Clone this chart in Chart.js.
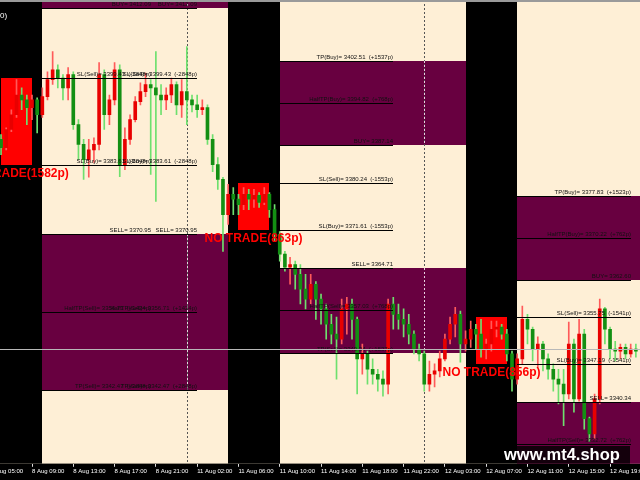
<!DOCTYPE html>
<html>
<head>
<meta charset="utf-8">
<title>XAUUSD M15 - Daily Range</title>
<script src="https://cdn.jsdelivr.net/npm/chart.js@4.4.1/dist/chart.umd.min.js"></script>
<style>
  html, body { margin: 0; padding: 0; background: #000; }
  #wrap { width: 640px; height: 480px; position: relative; }
</style>
</head>
<body>
<div id="wrap"><canvas id="chart"></canvas></div>
<script>
// one candle per 30 min, index 0 = 8 Aug 06:00
const opens = [
  3388.2, 3386.7, 3390.0, 3392.7, 3396.3, 3395.4, 3394.0, 3395.4, 3392.7, 3396.0,
  3399.1, 3400.9, 3399.4, 3397.6, 3400.0, 3390.9, 3387.3, 3384.5, 3386.3, 3387.3,
  3400.0, 3392.7, 3395.4, 3400.9, 3383.6, 3388.2, 3391.8, 3395.1, 3396.9, 3398.2,
  3397.6, 3396.3, 3395.4, 3396.3, 3398.2, 3394.5, 3396.9, 3395.4, 3394.5, 3393.6,
  3394.0, 3388.2, 3383.6, 3380.9, 3374.5, 3378.2, 3377.3, 3376.3, 3378.2, 3377.3,
  3378.0, 3376.7, 3378.2, 3375.4, 3370.9, 3367.3, 3364.9, 3365.4, 3363.6, 3360.9,
  3359.1, 3361.8, 3359.1, 3357.3, 3354.5, 3352.7, 3351.8, 3357.3, 3358.2, 3355.4,
  3348.2, 3349.1, 3346.3, 3345.4, 3344.5, 3343.6, 3358.2, 3356.3, 3355.4, 3354.5,
  3352.7, 3350.0, 3349.1, 3343.6, 3345.4, 3346.0, 3348.2, 3351.8, 3354.5, 3356.3,
  3350.9, 3351.8, 3353.6, 3352.7, 3350.0, 3350.9, 3353.6, 3354.0, 3352.7, 3349.1,
  3344.5, 3348.2, 3355.4, 3353.6, 3350.0, 3350.9, 3348.2, 3346.3, 3344.5, 3343.6,
  3341.8, 3350.9, 3340.9, 3352.7, 3337.3, 3334.5, 3340.9, 3357.3, 3353.6, 3350.0,
  3349.6, 3350.3, 3349.1, 3350.0
];
const highs = [
  3389.1, 3390.3, 3393.6, 3399.1, 3397.6, 3396.3, 3396.3, 3395.8, 3397.6, 3400.5,
  3404.2, 3401.8, 3400.0, 3401.3, 3400.5, 3391.8, 3388.2, 3388.2, 3388.5, 3402.2,
  3400.9, 3396.3, 3402.2, 3401.8, 3390.3, 3392.7, 3396.0, 3398.5, 3400.3, 3399.1,
  3404.2, 3398.2, 3397.6, 3399.4, 3398.7, 3399.1, 3405.1, 3396.3, 3396.3, 3395.4,
  3394.5, 3389.1, 3384.9, 3381.3, 3380.0, 3379.4, 3378.2, 3379.4, 3379.1, 3379.1,
  3378.5, 3379.4, 3378.5, 3376.3, 3371.4, 3367.8, 3366.7, 3366.0, 3365.4, 3363.6,
  3363.6, 3362.3, 3360.0, 3358.2, 3356.3, 3355.8, 3359.1, 3359.4, 3359.1, 3355.8,
  3350.9, 3349.6, 3348.2, 3346.3, 3346.0, 3359.1, 3359.4, 3358.2, 3357.3, 3356.3,
  3353.3, 3350.9, 3349.6, 3347.8, 3347.3, 3349.6, 3352.7, 3355.8, 3357.6, 3356.9,
  3353.3, 3355.1, 3354.5, 3355.4, 3351.8, 3355.1, 3355.1, 3354.5, 3353.6, 3349.6,
  3349.1, 3357.8, 3356.3, 3354.0, 3352.2, 3351.4, 3349.1, 3347.3, 3346.3, 3346.3,
  3354.9, 3351.8, 3355.4, 3353.6, 3337.6, 3341.8, 3359.1, 3357.6, 3354.0, 3351.4,
  3350.9, 3350.9, 3350.9, 3350.9
];
const lows = [
  3385.4, 3386.3, 3389.6, 3392.2, 3393.6, 3390.9, 3391.8, 3389.4, 3392.2, 3395.4,
  3398.2, 3397.6, 3395.4, 3395.4, 3390.0, 3384.5, 3380.9, 3381.3, 3384.0, 3386.3,
  3390.0, 3390.9, 3394.5, 3381.4, 3382.7, 3387.3, 3391.4, 3394.5, 3396.0, 3381.8,
  3376.9, 3392.7, 3393.6, 3394.9, 3392.7, 3392.2, 3390.9, 3393.2, 3392.2, 3392.7,
  3387.3, 3382.3, 3379.1, 3367.8, 3372.7, 3374.5, 3374.5, 3375.4, 3375.4, 3375.8,
  3375.8, 3376.3, 3374.0, 3369.6, 3366.0, 3364.2, 3361.8, 3360.9, 3358.2, 3357.3,
  3358.2, 3355.4, 3354.5, 3351.8, 3350.9, 3344.5, 3350.9, 3352.7, 3351.8, 3341.8,
  3345.4, 3343.6, 3343.6, 3342.3, 3341.4, 3341.8, 3353.6, 3353.6, 3352.2, 3350.9,
  3349.1, 3347.8, 3342.3, 3342.3, 3343.1, 3344.9, 3347.8, 3350.9, 3352.2, 3347.6,
  3349.6, 3350.3, 3350.0, 3348.5, 3348.2, 3349.6, 3352.2, 3351.8, 3347.8, 3342.3,
  3343.6, 3347.3, 3350.9, 3347.8, 3346.7, 3346.0, 3344.5, 3342.3, 3340.0, 3336.0,
  3340.9, 3338.5, 3340.5, 3335.4, 3333.1, 3333.6, 3340.0, 3350.9, 3348.2, 3347.8,
  3348.2, 3348.2, 3348.5, 3348.5
];
const closes = [
  3386.7, 3390.0, 3392.7, 3396.3, 3395.4, 3394.0, 3395.4, 3392.7, 3396.0, 3399.1,
  3400.9, 3399.4, 3397.6, 3400.0, 3390.9, 3387.3, 3384.5, 3386.3, 3387.3, 3400.0,
  3392.7, 3395.4, 3400.9, 3383.6, 3388.2, 3391.8, 3395.1, 3396.9, 3398.2, 3397.6,
  3396.3, 3395.4, 3396.3, 3398.2, 3394.5, 3396.9, 3395.4, 3394.5, 3393.6, 3394.0,
  3388.2, 3383.6, 3380.9, 3374.5, 3378.2, 3377.3, 3376.3, 3378.2, 3377.3, 3378.0,
  3376.7, 3378.2, 3375.4, 3370.9, 3367.3, 3364.9, 3365.4, 3363.6, 3360.9, 3359.1,
  3361.8, 3359.1, 3357.3, 3354.5, 3352.7, 3351.8, 3357.3, 3358.2, 3355.4, 3348.2,
  3349.1, 3346.3, 3345.4, 3344.5, 3343.6, 3358.2, 3356.3, 3355.4, 3354.5, 3352.7,
  3350.0, 3349.1, 3343.6, 3345.4, 3346.0, 3348.2, 3351.8, 3354.5, 3356.3, 3350.9,
  3351.8, 3353.6, 3352.7, 3350.0, 3350.9, 3353.6, 3354.0, 3352.7, 3349.1, 3344.5,
  3348.2, 3355.4, 3353.6, 3350.0, 3350.9, 3348.2, 3346.3, 3344.5, 3343.6, 3341.8,
  3350.9, 3340.9, 3352.7, 3337.3, 3334.5, 3340.9, 3357.3, 3353.6, 3350.0, 3349.6,
  3350.3, 3349.1, 3350.0, 3349.6
];

// time axis (candle index of each label)
const tickPos = [-2, 6, 14, 22, 30, 38, 46, 54, 62, 70, 78, 86, 94, 102, 110, 118];
const tickLabels = ['8 Aug 05:00', '8 Aug 09:00', '8 Aug 13:00', '8 Aug 17:00', '8 Aug 21:00',
  '11 Aug 02:00', '11 Aug 06:00', '11 Aug 10:00', '11 Aug 14:00', '11 Aug 18:00', '11 Aug 22:00',
  '12 Aug 03:00', '12 Aug 07:00', '12 Aug 11:00', '12 Aug 15:00', '12 Aug 19:00'];

// sessions
const nightFrom = [-10, 44, 90];
const nightTo = [8, 54, 100];
const lineEnd = [38, 76, 122];
const separators = [36, 82];
const buyZoneLow = [3412.09, 3387.14, 3362.60];
const buyZoneHigh = [3440.57, 3402.51, 3377.83];
const sellZoneHigh = [3370.95, 3364.71, 3340.34];
const sellZoneLow = [3342.47, 3349.34, 3324.93];

// no trade boxes
const noTradeFrom = [0, 46, 92];
const noTradeTo = [6, 52, 98];
const noTradeHigh = [3399.43, 3380.24, 3355.75];
const noTradeLow = [3383.61, 3371.61, 3347.19];
const noTradePips = [1582, 863, 856];

// level labels
const day1Prices = [3412.09, 3399.43, 3383.61, 3370.95, 3356.71, 3342.47];
const day1Texts = ['BUY= 3412.09', 'SL(Sell)= 3399.43  (-2848p)', 'SL(Buy)= 3383.61  (-2848p)',
  'SELL= 3370.95', 'HalfTP(Sell)= 3356.71  (+1424p)', 'TP(Sell)= 3342.47  (+2848p)'];
const day2Prices = [3402.51, 3394.82, 3387.14, 3380.24, 3371.61, 3364.71, 3357.03, 3349.34];
const day2Texts = ['TP(Buy)= 3402.51  (+1537p)', 'HalfTP(Buy)= 3394.82  (+768p)', 'BUY= 3387.14',
  'SL(Sell)= 3380.24  (-1553p)', 'SL(Buy)= 3371.61  (-1553p)', 'SELL= 3364.71',
  'HalfTP(Sell)= 3357.03  (+768p)', 'TP(Sell)= 3349.34  (+1537p)'];
const day3Prices = [3377.83, 3370.22, 3362.60, 3355.75, 3347.19, 3340.34, 3332.72];
const day3Texts = ['TP(Buy)= 3377.83  (+1523p)', 'HalfTP(Buy)= 3370.22  (+762p)', 'BUY= 3362.60',
  'SL(Sell)= 3355.75  (-1541p)', 'SL(Buy)= 3347.19  (-1541p)', 'SELL= 3340.34',
  'HalfTP(Sell)= 3332.72  (+762p)'];
const bidPrice = 3349.97;

const CREAM = '#feefd6';
const PURPLE = '#680040';
const FONT = '"Liberation Sans", Arial, sans-serif';

const isBull = opens.map((o, i) => closes[i] > o);
const bodyColors = isBull.map(b => b ? '#e80000' : '#138f13');
const wickColors = isBull.map(b => b ? '#ff5a5a' : '#6ee06e');

// ===========================================
// BACKGROUND ZONES, LEVELS AND TEXT
// ===========================================

const rangePlugin = {
  id: 'dailyRange',
  beforeDatasetsDraw(chart) {
    const { ctx, chartArea: a, scales: { x, y } } = chart;
    const px = v => Math.round(x.getPixelForValue(v));
    const py = v => Math.round(y.getPixelForValue(v));
    ctx.save();
    ctx.beginPath();
    ctx.rect(a.left, a.top, a.width, a.height);
    ctx.clip();
    ctx.fillStyle = CREAM;
    ctx.fillRect(a.left, a.top, a.width, a.height);

    ctx.fillStyle = '#000';
    nightFrom.forEach((f, i) => ctx.fillRect(px(f), a.top, px(nightTo[i]) - px(f), a.height));

    ctx.fillStyle = PURPLE;
    nightTo.forEach((s, i) => {
      const e = i + 1 < nightFrom.length ? nightFrom[i + 1] : x.max;
      ctx.fillRect(px(s), py(buyZoneHigh[i]), px(e) - px(s), py(buyZoneLow[i]) - py(buyZoneHigh[i]));
      ctx.fillRect(px(s), py(sellZoneHigh[i]), px(e) - px(s), py(sellZoneLow[i]) - py(sellZoneHigh[i]));
    });

    ctx.fillStyle = '#ff0000';
    noTradeFrom.forEach((f, i) => {
      ctx.fillRect(px(f), py(noTradeHigh[i]), px(noTradeTo[i]) - px(f), py(noTradeLow[i]) - py(noTradeHigh[i]));
    });

    // period separators: dark on cream, light on purple
    ctx.lineWidth = 1;
    ctx.setLineDash([2, 2]);
    separators.forEach(s => {
      const sx = px(s) + 0.5;
      ctx.strokeStyle = '#555';
      ctx.beginPath(); ctx.moveTo(sx, a.top); ctx.lineTo(sx, a.bottom); ctx.stroke();
      ctx.strokeStyle = '#e8d0e0';
      nightTo.forEach((d, i) => {
        [[buyZoneHigh[i], buyZoneLow[i]], [sellZoneHigh[i], sellZoneLow[i]]].forEach(([hi, lo]) => {
          const e = i + 1 < nightFrom.length ? nightFrom[i + 1] : x.max;
          if (s < d || s > e) return;
          const y0 = Math.max(py(hi), a.top), y1 = Math.min(py(lo), a.bottom);
          if (y1 <= y0) return;
          ctx.beginPath(); ctx.moveTo(sx, y0); ctx.lineTo(sx, y1); ctx.stroke();
        });
      });
    });
    ctx.restore();
  },
  afterDatasetsDraw(chart) {
    const { ctx, chartArea: a, scales: { x, y } } = chart;
    const px = v => Math.round(x.getPixelForValue(v));
    const py = v => Math.round(y.getPixelForValue(v));
    ctx.save();
    ctx.beginPath();
    ctx.rect(a.left, a.top, a.width, a.height);
    ctx.clip();

    const days = [[day1Prices, day1Texts], [day2Prices, day2Texts], [day3Prices, day3Texts]];
    ctx.font = '6px ' + FONT;
    ctx.textAlign = 'right';
    ctx.textBaseline = 'bottom';
    days.forEach(([prices, texts], d) => {
      const x0 = px(nightTo[d]);
      const x1 = px(lineEnd[d]);
      prices.forEach((p, k) => {
        const ly = py(p) + 0.5;
        ctx.strokeStyle = '#000';
        ctx.beginPath(); ctx.moveTo(x0, ly); ctx.lineTo(x1, ly); ctx.stroke();
        ctx.fillStyle = '#111';
        ctx.fillText(texts[k], x1, ly - 1);
        if (d === 0) ctx.fillText(texts[k], px(29), ly - 1);
      });
    });

    // bid line
    ctx.strokeStyle = '#b8b8b8';
    const by = py(bidPrice) + 0.5;
    ctx.beginPath(); ctx.moveTo(a.left, by); ctx.lineTo(a.right, by); ctx.stroke();

    // no trade labels
    ctx.font = 'bold 12px ' + FONT;
    ctx.textAlign = 'center';
    ctx.textBaseline = 'top';
    ctx.fillStyle = '#ff0000';
    noTradeFrom.forEach((f, i) => {
      const cx = (px(f) + px(noTradeTo[i])) / 2;
      ctx.fillText('NO TRADE(' + noTradePips[i] + 'p)', cx, py(noTradeLow[i]) + 3);
    });

    // watermark
    ctx.fillStyle = '#14000c';
    ctx.fillRect(517, 446, 113, a.bottom - 446);
    ctx.font = 'bold 16.5px ' + FONT;
    ctx.textAlign = 'left';
    ctx.textBaseline = 'middle';
    ctx.fillStyle = '#fff';
    ctx.fillText('www.mt4.shop', 504, 455);

    // title remnant and window edge
    ctx.font = '8px ' + FONT;
    ctx.textBaseline = 'alphabetic';
    ctx.fillText('0)', 0, 18);
    ctx.fillStyle = '#9a9a9a';
    ctx.fillRect(a.left, a.top, a.width, 2);
    ctx.restore();
  }
};

// ===========================================
// CANDLES
// ===========================================

const ctx = document.getElementById('chart');
new Chart(ctx, {
  type: 'bar',
  data: {
    datasets: [
      {
        label: 'body',
        data: opens.map((o, i) => ({ x: i, y: [o, closes[i]] })),
        backgroundColor: bodyColors,
        barThickness: 3,
        grouped: false,
        borderWidth: 0
      },
      {
        label: 'wick',
        data: lows.map((l, i) => ({ x: i, y: [l, highs[i]] })),
        backgroundColor: wickColors,
        barThickness: 1,
        grouped: false,
        borderWidth: 0
      }
    ]
  },
  options: {
    responsive: true,
    maintainAspectRatio: false,
    animation: false,
    layout: { padding: { left: 0, right: 0, top: 0, bottom: 4 } },
    plugins: { legend: { display: false }, tooltip: { enabled: false } },
    scales: {
      x: {
        type: 'linear',
        offset: false,
        bounds: 'data',
        min: -0.2,
        max: 123.8,
        afterBuildTicks: s => { s.ticks = tickPos.map(v => ({ value: v })); },
        afterFit: s => { s.paddingLeft = 0; s.paddingRight = 0; },
        ticks: {
          autoSkip: false,
          maxRotation: 0,
          align: 'start',
          padding: 1,
          color: '#fff',
          font: { family: FONT, size: 6 },
          callback: (v, i) => tickLabels[i]
        },
        grid: { offset: false, drawOnChartArea: false, tickLength: 3, color: '#ddd' },
        border: { display: false }
      },
      y: {
        display: false,
        min: 3329.07,
        max: 3413.61
      }
    }
  },
  plugins: [rangePlugin]
});
</script>
</body>
</html>
